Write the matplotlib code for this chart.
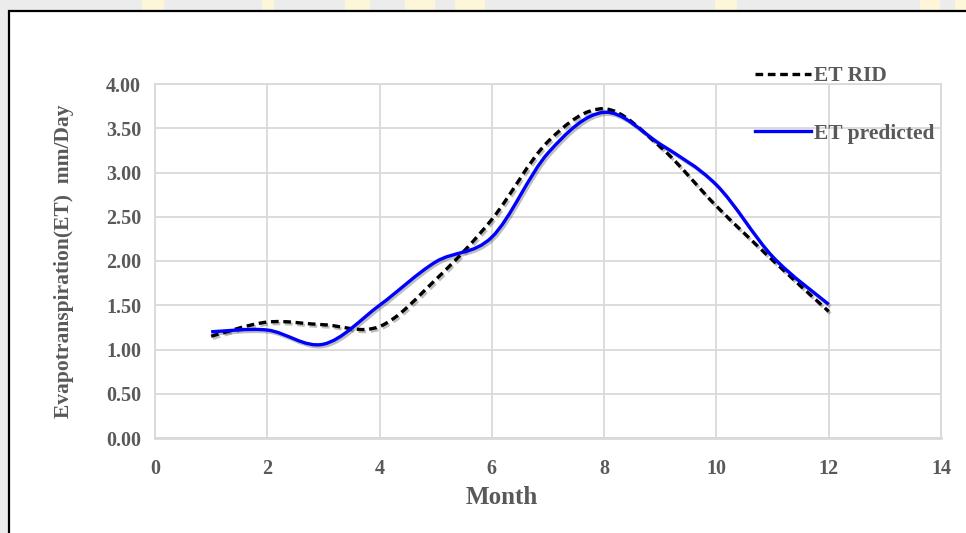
"""Monthly evapotranspiration: measured (ET RID) vs predicted, smoothed lines."""

import numpy as np
import matplotlib
matplotlib.use("Agg")
import matplotlib.pyplot as plt
import matplotlib.patheffects as pe
from matplotlib.path import Path
from matplotlib.patches import PathPatch, Rectangle
from matplotlib.lines import Line2D

# Data.
months = [1, 2, 3, 4, 5, 6, 7, 8, 9, 10, 11, 12]
et_rid = [1.15, 1.31, 1.28, 1.26, 1.79, 2.47, 3.35, 3.72, 3.29, 2.62, 2.01, 1.43]
et_predicted = [1.20, 1.22, 1.06, 1.50, 1.99, 2.27, 3.22, 3.68, 3.32, 2.86, 2.05, 1.51]

x_ticks = [0, 2, 4, 6, 8, 10, 12, 14]
y_ticks = [0.0, 0.5, 1.0, 1.5, 2.0, 2.5, 3.0, 3.5, 4.0]

TEXT = "#595959"
GRID = "#d9d9d9"
FONT = "Liberation Serif"


# `smooth_path` builds a Catmull-Rom style Bezier path through the points,
# like the "smoothed line" option of a spreadsheet scatter chart.
def smooth_path(xs, ys):
    pts = np.column_stack([xs, ys]).astype(float)
    n = len(pts)
    verts = [pts[0]]
    codes = [Path.MOVETO]
    for i in range(n - 1):
        p0 = pts[max(i - 1, 0)]
        p1 = pts[i]
        p2 = pts[i + 1]
        p3 = pts[min(i + 2, n - 1)]
        verts += [p1 + (p2 - p0) / 6, p2 - (p3 - p1) / 6, p2]
        codes += [Path.CURVE4] * 3
    return Path(verts, codes)


fig = plt.figure(figsize=(9.66, 5.33), dpi=100)
fig.patch.set_facecolor("#ebeceb")

# watermark-ish yellow bits in the grey margin
for x0, w in [(142, 22), (262, 12), (345, 25), (405, 30), (455, 30),
              (715, 22), (920, 20), (955, 11)]:
    fig.patches.append(Rectangle((x0 / 966, 1 - 10 / 533), w / 966, 10 / 533,
                                 transform=fig.transFigure,
                                 facecolor="#fdf6d8", edgecolor="none",
                                 zorder=-2))

# white chart box with black border (left and top visible)
fig.patches.append(Rectangle((8.5 / 966, -0.05), 1.1, 1.05 - 11 / 533,
                             transform=fig.transFigure, facecolor="white",
                             edgecolor="black", linewidth=1.6, zorder=-1))

ax = fig.add_axes([155 / 966, 1 - 438 / 533, 786 / 966, 354 / 533])
ax.set_zorder(2)
ax.set_facecolor("none")
ax.set_xlim(0, 14)
ax.set_ylim(0, 4)

ax.set_xticks(x_ticks)
ax.set_yticks(y_ticks)
ax.set_yticklabels([f"{v:.2f}" for v in y_ticks])
ax.tick_params(axis="both", length=0, labelcolor=TEXT, labelsize=14.5)
ax.tick_params(axis="x", pad=15)
ax.tick_params(axis="y", pad=10)
for label in ax.get_xticklabels() + ax.get_yticklabels():
    label.set_fontfamily(FONT)
    label.set_fontweight("bold")

ax.grid(True, color=GRID, linewidth=1.3)
ax.set_axisbelow(True)
for side, spine in ax.spines.items():
    spine.set_color(GRID)
    spine.set_linewidth(1.3)
ax.spines["bottom"].set_linewidth(2.0)

shadow = [pe.SimpleLineShadow(offset=(1.2, -1.5), shadow_color="black",
                              alpha=0.25), pe.Normal()]

rid_patch = PathPatch(smooth_path(months, et_rid), fill=False,
                      edgecolor="black", linewidth=2.4,
                      linestyle=(0, (2.3, 1.4)), capstyle="butt", zorder=3)
rid_patch.set_path_effects(shadow)
ax.add_patch(rid_patch)

pred_patch = PathPatch(smooth_path(months, et_predicted), fill=False,
                       edgecolor="#0000ff", linewidth=2.4, zorder=4)
pred_patch.set_path_effects(shadow)
ax.add_patch(pred_patch)

ax.set_xlabel("Month", fontfamily=FONT, fontweight="bold", fontsize=18,
              color=TEXT)
ax.xaxis.set_label_coords(0.4415, -0.135)
ax.set_ylabel("Evapotranspiration(ET)  mm/Day", fontfamily=FONT,
              fontweight="bold", fontsize=15.5, color=TEXT)
ax.yaxis.set_label_coords(-0.103, 0.5)

handles = [
    Line2D([], [], color="black", linewidth=2.4, linestyle=(0, (2.3, 1.4))),
    Line2D([], [], color="#0000ff", linewidth=2.4),
]
leg = fig.legend(handles, ["ET RID", "ET predicted"], loc="upper left",
                 bbox_to_anchor=(755 / 966, 1 - 66 / 533), frameon=False,
                 borderpad=0, borderaxespad=0, handlelength=2.6,
                 handletextpad=0.15, labelspacing=1.75, labelcolor=TEXT,
                 prop={"family": FONT, "weight": "bold", "size": 15.5})
leg.set_zorder(3)

fig.savefig("out.png", dpi=100)
